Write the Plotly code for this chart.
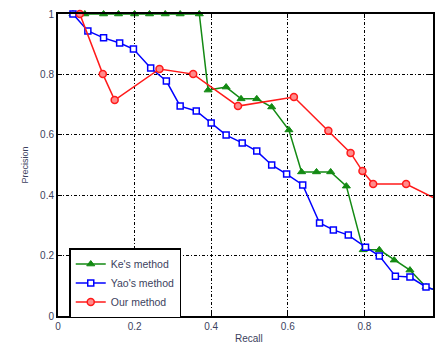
import plotly.graph_objects as go

# Ke's method
ke_recall = [0.039, 0.070, 0.119, 0.158, 0.200, 0.239, 0.280, 0.319, 0.369, 0.392, 0.439, 0.478, 0.519, 0.558, 0.603, 0.636, 0.675, 0.712, 0.753, 0.797, 0.839, 0.878, 0.919, 0.961, 1.0]
ke_precision = [1.0, 1.0, 1.0, 1.0, 1.0, 1.0, 1.0, 1.0, 1.0, 0.748, 0.758, 0.719, 0.719, 0.692, 0.616, 0.477, 0.477, 0.477, 0.430, 0.219, 0.219, 0.185, 0.152, 0.096, 0.08]

# Yao's method
yao_recall = [0.039, 0.078, 0.119, 0.161, 0.197, 0.242, 0.283, 0.319, 0.361, 0.400, 0.439, 0.481, 0.519, 0.558, 0.597, 0.639, 0.683, 0.719, 0.758, 0.803, 0.839, 0.881, 0.919, 0.961, 1.0]
yao_precision = [1.0, 0.944, 0.921, 0.904, 0.884, 0.821, 0.778, 0.695, 0.679, 0.639, 0.599, 0.573, 0.546, 0.500, 0.470, 0.434, 0.308, 0.285, 0.268, 0.228, 0.199, 0.132, 0.129, 0.096, 0.08]

# Our method
our_recall = [0.057, 0.117, 0.148, 0.265, 0.353, 0.470, 0.616, 0.706, 0.764, 0.795, 0.823, 0.909, 1.0]
our_precision = [1.0, 0.801, 0.715, 0.818, 0.801, 0.695, 0.725, 0.613, 0.540, 0.480, 0.437, 0.437, 0.38]

x_ticks = [0, 0.2, 0.4, 0.6, 0.8, 1]
y_ticks = [0, 0.2, 0.4, 0.6, 0.8, 1]
y_tick_text = ["0", "0.2", "0.4", "0.6", "0.8", "1"]

TXT = "#3c3f5e"
FONT = "Liberation Sans, Arial, sans-serif"

fig = go.Figure()
fig.add_trace(go.Scatter(
    x=ke_recall, y=ke_precision, mode="lines+markers", name="Ke's method",
    line=dict(color="#138a13", width=1.5),
    marker=dict(symbol="triangle-up", size=7, color="#138a13", line=dict(color="#138a13", width=1)),
    cliponaxis=False,
))
fig.add_trace(go.Scatter(
    x=yao_recall, y=yao_precision, mode="lines+markers", name="Yao's method",
    line=dict(color="#0000ff", width=1.5),
    marker=dict(symbol="square", size=6, color="white", line=dict(color="#0000ff", width=1.5)),
    cliponaxis=False,
))
fig.add_trace(go.Scatter(
    x=our_recall, y=our_precision, mode="lines+markers", name="Our method",
    line=dict(color="#ff1a1a", width=1.5),
    marker=dict(symbol="circle", size=7, color="#ff8c8c", line=dict(color="#ff1a1a", width=1.5)),
    cliponaxis=False,
))

fig.update_layout(
    width=435, height=347,
    margin=dict(l=58, r=0, t=14, b=31),
    paper_bgcolor="white", plot_bgcolor="white",
    font=dict(family=FONT, size=10, color=TXT),
    showlegend=True,
    legend=dict(
        x=0.03, y=0.225, xanchor="left", yanchor="top",
        bgcolor="white", bordercolor="black", borderwidth=1.5,
        font=dict(family=FONT, size=10.5, color=TXT),
        tracegroupgap=0, itemwidth=30,
    ),
    xaxis=dict(
        range=[0, (435 - 58) / 385], tickvals=x_ticks, ticktext=[str(v) for v in x_ticks[:-1]] + ["1"],
        showgrid=True, gridcolor="black", gridwidth=1, griddash="3px,2px,1px,2px",
        showline=True, linecolor="black", linewidth=2, mirror="ticks",
        ticks="inside", ticklen=4, tickcolor="black", tickwidth=1,
        zeroline=False, tickfont=dict(size=10, color=TXT),
    ),
    yaxis=dict(
        range=[0, 1], tickvals=y_ticks, ticktext=y_tick_text,
        showgrid=True, gridcolor="black", gridwidth=1, griddash="3px,2px,1px,2px",
        showline=True, linecolor="black", linewidth=2, mirror="ticks",
        ticks="inside", ticklen=4, tickcolor="black", tickwidth=1,
        zeroline=False, tickfont=dict(size=10, color=TXT),
        title=dict(text="Precision", font=dict(size=9, color=TXT), standoff=10),
    ),
    annotations=[dict(
        x=0.5, xref="x", y=-0.075, yref="paper", text="Recall", showarrow=False,
        xanchor="center", yanchor="middle", font=dict(size=10, color=TXT),
    )],
)

fig.write_html("out.html")
